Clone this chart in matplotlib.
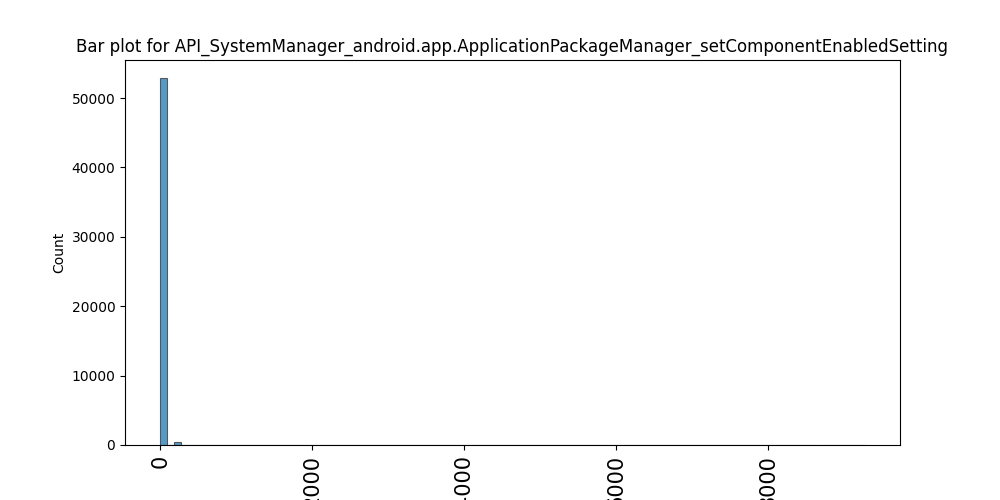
import numpy as np
import matplotlib.pyplot as plt

title = 'Bar plot for API_SystemManager_android.app.ApplicationPackageManager_setComponentEnabledSetting'

# histogram: 100 bins between min and max value
data_min, data_max = 0, 9270
counts = np.zeros(100)
counts[0] = 52840
counts[1] = 25
counts[2] = 390
counts[99] = 1

edges = np.linspace(data_min, data_max, len(counts) + 1)

fig, ax = plt.subplots(figsize=(10, 5), dpi=100)
ax.hist(edges[:-1], bins=edges, weights=counts, color='#1f77b4', alpha=0.75,
        edgecolor='#333333', linewidth=0.8)
ax.margins(x=0.05)
ax.set_ylabel('Count')
ax.set_title(title)
ax.set_xticks([0, 2000, 4000, 6000, 8000])
plt.xticks(rotation=90, fontsize=15)
fig.savefig('out.png')
